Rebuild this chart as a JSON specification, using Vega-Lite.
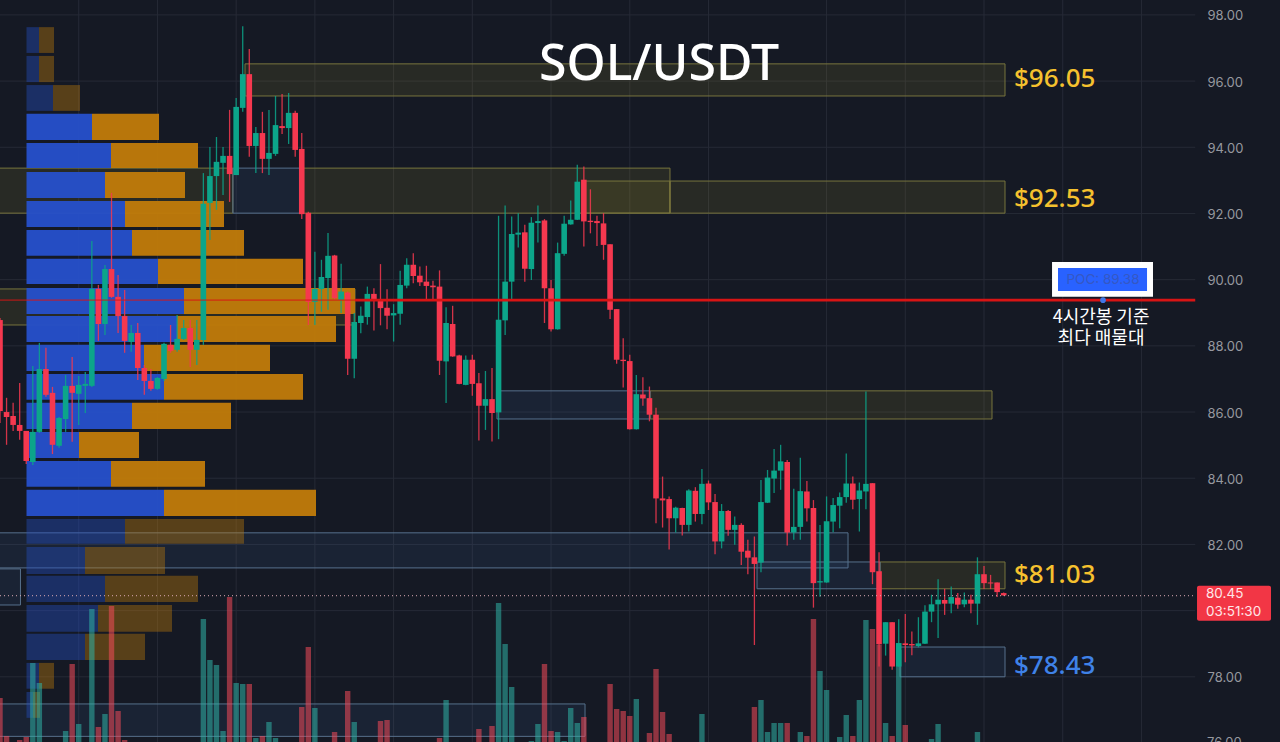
{"width":1280,"height":742,"padding":0,"autosize":{"type":"none"},"background":"#151924","config":{"view":{"stroke":null},"font":"Noto Sans"},
"datasets":{
"candles":[
{"i":0,"o":88.78,"h":88.84,"l":85.67,"c":86.03,"v":44},{"i":1,"o":86.0,"h":86.43,"l":85.01,"c":85.85,"v":6},{"i":2,"o":85.88,"h":86.28,"l":85.43,"c":85.61,"v":0},{"i":3,"o":85.61,"h":86.88,"l":85.16,"c":85.43,"v":2},{"i":4,"o":85.43,"h":85.43,"l":84.43,"c":84.52,"v":5},{"i":5,"o":84.49,"h":87.39,"l":84.4,"c":85.4,"v":79},{"i":6,"o":85.4,"h":88.09,"l":85.37,"c":87.3,"v":59},{"i":7,"o":87.3,"h":87.94,"l":86.46,"c":86.52,"v":0},{"i":8,"o":86.58,"h":86.76,"l":84.73,"c":85.01,"v":0},{"i":9,"o":84.98,"h":85.85,"l":84.92,"c":85.82,"v":0},
{"i":10,"o":85.79,"h":87.12,"l":85.4,"c":86.79,"v":11},{"i":11,"o":86.79,"h":87.66,"l":85.1,"c":86.58,"v":78},{"i":12,"o":86.55,"h":87.09,"l":85.61,"c":86.82,"v":18},{"i":13,"o":86.79,"h":87.21,"l":85.97,"c":86.85,"v":0},{"i":14,"o":86.79,"h":91.17,"l":86.76,"c":89.72,"v":133},{"i":15,"o":89.72,"h":89.84,"l":88.15,"c":88.66,"v":15},{"i":16,"o":88.66,"h":90.44,"l":88.33,"c":90.32,"v":28},{"i":17,"o":90.32,"h":92.62,"l":89.45,"c":89.48,"v":136},{"i":18,"o":89.48,"h":90.14,"l":88.39,"c":88.9,"v":31},{"i":19,"o":88.9,"h":89.69,"l":87.79,"c":88.15,"v":2},
{"i":20,"o":88.12,"h":88.63,"l":87.82,"c":88.39,"v":0},{"i":21,"o":88.39,"h":88.69,"l":86.97,"c":87.33,"v":0},{"i":22,"o":87.33,"h":87.42,"l":86.52,"c":86.94,"v":0},{"i":23,"o":86.94,"h":87.3,"l":86.64,"c":86.7,"v":0},{"i":24,"o":86.7,"h":87.06,"l":86.67,"c":87.03,"v":0},{"i":25,"o":87.0,"h":88.09,"l":86.94,"c":88.06,"v":0},{"i":26,"o":88.03,"h":88.63,"l":87.79,"c":87.85,"v":0},{"i":27,"o":87.88,"h":88.93,"l":87.82,"c":88.21,"v":0},{"i":28,"o":88.21,"h":88.78,"l":88.18,"c":88.54,"v":0},{"i":29,"o":88.54,"h":88.78,"l":87.36,"c":87.88,"v":0},
{"i":30,"o":87.88,"h":88.78,"l":87.42,"c":88.18,"v":0},{"i":31,"o":88.18,"h":93.22,"l":88.03,"c":92.29,"v":123},{"i":32,"o":92.32,"h":94.01,"l":91.2,"c":93.13,"v":82},{"i":33,"o":93.13,"h":94.31,"l":92.11,"c":93.56,"v":77},{"i":34,"o":93.53,"h":94.01,"l":92.56,"c":93.74,"v":11},{"i":35,"o":93.74,"h":95.13,"l":92.35,"c":93.19,"v":145},{"i":36,"o":93.16,"h":95.49,"l":93.16,"c":95.22,"v":59},{"i":37,"o":95.19,"h":97.66,"l":95.07,"c":96.21,"v":58},{"i":38,"o":96.21,"h":96.97,"l":93.71,"c":94.04,"v":58},{"i":39,"o":94.04,"h":94.61,"l":93.22,"c":94.43,"v":4},
{"i":40,"o":94.43,"h":95.07,"l":93.22,"c":93.65,"v":6},{"i":41,"o":93.65,"h":95.13,"l":93.16,"c":93.83,"v":20},{"i":42,"o":93.8,"h":95.55,"l":93.74,"c":94.67,"v":4},{"i":43,"o":94.64,"h":95.61,"l":94.4,"c":94.58,"v":0},{"i":44,"o":94.58,"h":95.64,"l":94.1,"c":95.04,"v":0},{"i":45,"o":95.04,"h":95.1,"l":93.71,"c":93.92,"v":0},{"i":46,"o":93.95,"h":94.43,"l":91.83,"c":91.98,"v":35},{"i":47,"o":92.02,"h":92.05,"l":88.63,"c":89.33,"v":95},{"i":48,"o":89.33,"h":90.84,"l":88.63,"c":89.72,"v":34},{"i":49,"o":89.72,"h":90.6,"l":89.03,"c":90.08,"v":0},
{"i":50,"o":90.05,"h":91.41,"l":89.09,"c":90.72,"v":0},{"i":51,"o":90.73,"h":90.75,"l":89.39,"c":89.44,"v":10},{"i":52,"o":89.39,"h":90.48,"l":88.99,"c":89.64,"v":0},{"i":53,"o":89.61,"h":89.64,"l":87.12,"c":87.61,"v":51},{"i":54,"o":87.61,"h":88.99,"l":87.02,"c":88.72,"v":20},{"i":55,"o":88.69,"h":89.19,"l":88.38,"c":88.91,"v":0},{"i":56,"o":88.87,"h":89.79,"l":88.64,"c":89.57,"v":0},{"i":57,"o":89.57,"h":89.74,"l":88.46,"c":89.36,"v":0},{"i":58,"o":89.39,"h":90.47,"l":88.62,"c":89.14,"v":21},{"i":59,"o":89.15,"h":89.71,"l":88.5,"c":88.91,"v":22},
{"i":60,"o":88.92,"h":89.26,"l":88.13,"c":88.99,"v":0},{"i":61,"o":88.97,"h":90.27,"l":88.64,"c":89.84,"v":0},{"i":62,"o":89.82,"h":90.65,"l":89.74,"c":90.45,"v":0},{"i":63,"o":90.45,"h":90.8,"l":89.89,"c":90.11,"v":0},{"i":64,"o":90.12,"h":90.4,"l":89.81,"c":89.92,"v":0},{"i":65,"o":89.94,"h":90.42,"l":89.41,"c":89.81,"v":0},{"i":66,"o":89.82,"h":89.97,"l":89.41,"c":89.77,"v":0},{"i":67,"o":89.79,"h":90.28,"l":87.12,"c":87.55,"v":4},{"i":68,"o":87.53,"h":89.17,"l":86.27,"c":88.69,"v":42},{"i":69,"o":88.66,"h":89.21,"l":87.67,"c":87.68,"v":0},
{"i":70,"o":87.71,"h":87.73,"l":86.84,"c":86.85,"v":0},{"i":71,"o":86.82,"h":87.71,"l":86.81,"c":87.58,"v":0},{"i":72,"o":87.58,"h":87.73,"l":86.49,"c":86.85,"v":0},{"i":73,"o":86.87,"h":87.18,"l":85.14,"c":86.19,"v":13},{"i":74,"o":86.19,"h":87.24,"l":85.46,"c":86.39,"v":0},{"i":75,"o":86.39,"h":87.33,"l":85.11,"c":85.97,"v":16},{"i":76,"o":85.99,"h":91.93,"l":85.18,"c":88.79,"v":139},{"i":77,"o":88.77,"h":92.24,"l":88.33,"c":89.94,"v":98},{"i":78,"o":89.94,"h":91.91,"l":89.41,"c":91.38,"v":55},{"i":79,"o":91.36,"h":92.01,"l":90.97,"c":91.42,"v":0},
{"i":80,"o":91.43,"h":91.66,"l":89.94,"c":90.33,"v":0},{"i":81,"o":90.32,"h":91.89,"l":89.99,"c":91.72,"v":1},{"i":82,"o":91.71,"h":92.24,"l":91.12,"c":91.77,"v":18},{"i":83,"o":91.79,"h":91.83,"l":88.69,"c":89.74,"v":78},{"i":84,"o":89.74,"h":89.99,"l":88.43,"c":88.5,"v":11},{"i":85,"o":88.5,"h":91.12,"l":88.49,"c":90.8,"v":10},{"i":86,"o":90.78,"h":91.93,"l":90.72,"c":91.69,"v":1},{"i":87,"o":91.67,"h":92.39,"l":91.66,"c":91.81,"v":34},{"i":88,"o":91.81,"h":93.47,"l":91.8,"c":92.96,"v":19},{"i":89,"o":93.02,"h":93.42,"l":91.0,"c":91.76,"v":25},
{"i":90,"o":91.78,"h":92.73,"l":91.4,"c":91.74,"v":0},{"i":91,"o":91.77,"h":91.93,"l":91.02,"c":91.71,"v":0},{"i":92,"o":91.7,"h":92.01,"l":90.6,"c":91.05,"v":0},{"i":93,"o":91.07,"h":91.07,"l":88.81,"c":89.09,"v":58},{"i":94,"o":89.11,"h":89.11,"l":87.46,"c":87.58,"v":33},{"i":95,"o":87.58,"h":88.23,"l":86.74,"c":87.54,"v":31},{"i":96,"o":87.54,"h":87.73,"l":85.47,"c":85.48,"v":26},{"i":97,"o":85.48,"h":87.12,"l":85.47,"c":86.54,"v":43},{"i":98,"o":86.53,"h":87.05,"l":86.19,"c":86.41,"v":0},{"i":99,"o":86.42,"h":86.77,"l":85.72,"c":85.92,"v":9},
{"i":100,"o":85.92,"h":86.13,"l":82.64,"c":83.39,"v":73},{"i":101,"o":83.39,"h":84.05,"l":82.51,"c":83.33,"v":30},{"i":102,"o":83.37,"h":83.45,"l":81.85,"c":82.79,"v":8},{"i":103,"o":82.79,"h":83.14,"l":82.36,"c":83.11,"v":0},{"i":104,"o":83.1,"h":83.11,"l":82.27,"c":82.59,"v":0},{"i":105,"o":82.59,"h":83.67,"l":82.39,"c":83.63,"v":0},{"i":106,"o":83.62,"h":83.73,"l":82.69,"c":82.92,"v":0},{"i":107,"o":82.92,"h":84.28,"l":82.61,"c":83.83,"v":28},{"i":108,"o":83.84,"h":83.93,"l":83.04,"c":83.27,"v":0},{"i":109,"o":83.28,"h":83.52,"l":81.7,"c":82.09,"v":0},
{"i":110,"o":82.09,"h":83.22,"l":81.88,"c":83.01,"v":0},{"i":111,"o":83.01,"h":83.04,"l":82.26,"c":82.44,"v":0},{"i":112,"o":82.44,"h":82.84,"l":81.99,"c":82.59,"v":0},{"i":113,"o":82.59,"h":82.64,"l":81.38,"c":81.78,"v":0},{"i":114,"o":81.81,"h":82.14,"l":81.1,"c":81.6,"v":0},{"i":115,"o":81.61,"h":82.24,"l":78.96,"c":81.41,"v":35},{"i":116,"o":81.45,"h":83.95,"l":81.16,"c":83.28,"v":42},{"i":117,"o":83.26,"h":84.25,"l":83.25,"c":84.02,"v":10},{"i":118,"o":83.99,"h":84.88,"l":83.55,"c":84.23,"v":19},{"i":119,"o":84.23,"h":85.01,"l":83.65,"c":84.51,"v":19},
{"i":120,"o":84.49,"h":84.55,"l":81.97,"c":82.36,"v":19},{"i":121,"o":82.36,"h":83.68,"l":82.14,"c":82.53,"v":0},{"i":122,"o":82.53,"h":84.62,"l":82.14,"c":83.61,"v":10},{"i":123,"o":83.6,"h":83.92,"l":82.69,"c":83.09,"v":6},{"i":124,"o":83.1,"h":83.34,"l":80.09,"c":80.83,"v":123},{"i":125,"o":80.85,"h":82.59,"l":80.42,"c":80.89,"v":71},{"i":126,"o":80.85,"h":83.45,"l":80.84,"c":82.7,"v":52},{"i":127,"o":82.69,"h":83.4,"l":82.37,"c":83.19,"v":0},{"i":128,"o":83.17,"h":83.57,"l":82.49,"c":83.43,"v":5},{"i":129,"o":83.43,"h":84.75,"l":83.26,"c":83.84,"v":27},
{"i":130,"o":83.84,"h":84.05,"l":83.06,"c":83.35,"v":6},{"i":131,"o":83.37,"h":83.87,"l":82.39,"c":83.63,"v":42},{"i":132,"o":83.6,"h":86.62,"l":83.06,"c":83.83,"v":122},{"i":133,"o":83.85,"h":83.85,"l":80.8,"c":81.16,"v":113},{"i":134,"o":81.19,"h":81.76,"l":78.31,"c":78.98,"v":97},{"i":135,"o":79.0,"h":79.65,"l":78.64,"c":79.65,"v":19},{"i":136,"o":79.65,"h":79.65,"l":78.21,"c":78.31,"v":6},{"i":137,"o":78.31,"h":79.74,"l":78.3,"c":79.02,"v":92},{"i":138,"o":79.01,"h":79.9,"l":78.44,"c":78.96,"v":17},{"i":139,"o":78.99,"h":79.37,"l":78.65,"c":78.95,"v":0},
{"i":140,"o":78.93,"h":79.8,"l":78.89,"c":79.01,"v":0},{"i":141,"o":79.0,"h":80.16,"l":78.99,"c":79.97,"v":0},{"i":142,"o":79.97,"h":80.48,"l":79.65,"c":80.19,"v":3},{"i":143,"o":80.19,"h":80.95,"l":79.17,"c":80.33,"v":18},{"i":144,"o":80.32,"h":80.66,"l":79.87,"c":80.21,"v":0},{"i":145,"o":80.21,"h":80.73,"l":79.92,"c":80.41,"v":0},{"i":146,"o":80.39,"h":80.53,"l":80.06,"c":80.18,"v":0},{"i":147,"o":80.19,"h":80.55,"l":80.1,"c":80.33,"v":0},{"i":148,"o":80.33,"h":80.48,"l":79.92,"c":80.21,"v":0},{"i":149,"o":80.21,"h":81.61,"l":79.57,"c":81.1,"v":10},
{"i":150,"o":81.1,"h":81.35,"l":80.65,"c":80.83,"v":0},{"i":151,"o":80.85,"h":81.08,"l":80.65,"c":80.82,"v":0},{"i":152,"o":80.85,"h":80.85,"l":80.41,"c":80.56,"v":0},{"i":153,"o":80.53,"h":80.55,"l":80.45,"c":80.46,"v":0}
],
"profile":[
{"start":0,"p1":97.63,"p2":96.85,"buy":12.5,"total":27.5,"area":"out"},{"start":0,"p1":96.76,"p2":95.97,"buy":12.5,"total":27.5,"area":"out"},{"start":0,"p1":95.88,"p2":95.1,"buy":26.5,"total":53.5,"area":"out"},{"start":0,"p1":95.01,"p2":94.22,"buy":65.5,"total":132.5,"area":"in"},{"start":0,"p1":94.13,"p2":93.37,"buy":84.5,"total":171.5,"area":"in"},{"start":0,"p1":93.25,"p2":92.47,"buy":78.5,"total":158.5,"area":"in"},{"start":0,"p1":92.38,"p2":91.59,"buy":98.5,"total":197.5,"area":"in"},{"start":0,"p1":91.5,"p2":90.72,"buy":105.5,"total":217.5,"area":"in"},{"start":0,"p1":90.63,"p2":89.87,"buy":131.5,"total":276.5,"area":"in"},{"start":0,"p1":89.75,"p2":88.96,"buy":157.5,"total":328.5,"area":"in"},{"start":0,"p1":88.9,"p2":88.12,"buy":150.5,"total":309.5,"area":"in"},{"start":0,"p1":88.03,"p2":87.24,"buy":117.5,"total":243.5,"area":"in"},{"start":0,"p1":87.15,"p2":86.37,"buy":137.5,"total":276.5,"area":"in"},{"start":0,"p1":86.28,"p2":85.49,"buy":105.5,"total":204.5,"area":"in"},{"start":0,"p1":85.4,"p2":84.61,"buy":52.5,"total":112.5,"area":"in"},{"start":0,"p1":84.52,"p2":83.74,"buy":84.5,"total":178.5,"area":"in"},{"start":0,"p1":83.65,"p2":82.86,"buy":137.5,"total":289.5,"area":"in"},{"start":0,"p1":82.77,"p2":82.02,"buy":98.5,"total":217.5,"area":"out"},{"start":0,"p1":81.92,"p2":81.11,"buy":58.5,"total":138.5,"area":"out"},{"start":0,"p1":81.05,"p2":80.26,"buy":78.5,"total":171.5,"area":"out"},{"start":0,"p1":80.17,"p2":79.36,"buy":71.5,"total":145.5,"area":"out"},{"start":0,"p1":79.3,"p2":78.51,"buy":58.5,"total":118.5,"area":"out"},{"start":0,"p1":78.42,"p2":77.64,"buy":12.5,"total":27.5,"area":"out"},{"start":0,"p1":77.54,"p2":76.76,"buy":6.5,"total":13.5,"area":"out"}
],
"zones":[
{"x1":37.35,"x2":153.2,"p1":96.52,"p2":95.55,"kind":"supply"},{"x1":-2,"x2":35.5,"p1":93.37,"p2":92.01,"kind":"supply"},{"x1":46.19,"x2":102.13,"p1":93.37,"p2":92.01,"kind":"supply"},{"x1":102.13,"x2":153.2,"p1":92.98,"p2":92.01,"kind":"supply"},{"x1":89.18,"x2":102.13,"p1":92.98,"p2":92.01,"kind":"supply"},{"x1":-2,"x2":54.12,"p1":89.72,"p2":88.63,"kind":"supply"},{"x1":99.09,"x2":151.22,"p1":86.64,"p2":85.79,"kind":"supply"},{"x1":134.15,"x2":153.2,"p1":81.47,"p2":80.66,"kind":"supply"},
{"x1":35.5,"x2":46.19,"p1":93.37,"p2":92.01,"kind":"demand"},{"x1":75.76,"x2":99.09,"p1":86.64,"p2":85.79,"kind":"demand"},{"x1":-2,"x2":129.27,"p1":82.35,"p2":81.29,"kind":"demand"},{"x1":115.4,"x2":134.15,"p1":81.47,"p2":80.66,"kind":"demand"},{"x1":137.2,"x2":153.2,"p1":78.9,"p2":78.0,"kind":"demand"},{"x1":-2,"x2":3.12,"p1":81.26,"p2":80.17,"kind":"demand"},{"x1":-2,"x2":89.18,"p1":77.18,"p2":76.2,"kind":"demand"}
],
"xgrid":[{"i":12},{"i":24},{"i":36},{"i":48},{"i":60},{"i":72},{"i":84},{"i":96},{"i":108},{"i":126},{"i":138},{"i":150},{"i":162},{"i":174}],
"ygrid":[{"p":98,"a":0,"b":182.2},{"p":96,"a":0,"b":182.2},{"p":94,"a":0,"b":182.2},{"p":92,"a":0,"b":182.2},{"p":90,"a":0,"b":182.2},{"p":88,"a":0,"b":182.2},{"p":86,"a":0,"b":182.2},{"p":84,"a":0,"b":182.2},{"p":82,"a":0,"b":182.2},{"p":80,"a":0,"b":182.2},{"p":78,"a":0,"b":182.2}],
"levels":[{"label":"$96.05","i":154.57,"p":96.06,"kind":"gold"},{"label":"$92.53","i":154.57,"p":92.44,"kind":"gold"},{"label":"$81.03","i":154.57,"p":81.08,"kind":"gold"},{"label":"$78.43","i":154.57,"p":78.33,"kind":"blue"}]
},
"resolve":{"scale":{"x":"independent","y":"independent"}},
"layer":[
{"data":{"name":"ygrid"},"mark":{"type":"rule","color":"#262a36","strokeWidth":1},"encoding":{"x":{"field":"a","type":"quantitative","scale":{"domain":[0,195.12],"nice":false,"zero":false},"axis":null},"x2":{"field":"b"},"y":{"field":"p","type":"quantitative","scale":{"domain":[76.03,98.45],"nice":false,"zero":false},"axis":{"orient":"right","offset":-73,"values":[78,80,82,84,86,88,90,92,94,96,98],"format":".2f","title":null,"grid":false,"ticks":false,"domain":false,"labelPadding":0,"labelOffset":1,"labelAlign":"left","labelBaseline":"middle","labelColor":"#96989f","labelFont":"Inter","labelFontSize":13,"labelOverlap":false,"labelFlush":false,"labelBound":false}}}},
{"data":{"name":"xgrid"},"mark":{"type":"rule","color":"#262a36","strokeWidth":1},"encoding":{"x":{"field":"i","type":"quantitative","scale":{"domain":[0,195.12],"nice":false,"zero":false},"axis":null}}},
{"data":{"name":"zones"},"mark":{"type":"rect","strokeWidth":1,"fillOpacity":0.11,"clip":true},"encoding":{"x":{"field":"x1","type":"quantitative","scale":{"domain":[0,195.12],"nice":false,"zero":false},"axis":null},"x2":{"field":"x2"},"y":{"field":"p1","type":"quantitative","scale":{"domain":[76.03,98.45],"nice":false,"zero":false},"axis":null},"y2":{"field":"p2"},"fill":{"condition":{"test":"datum.kind==='supply'","value":"#c8b432"},"value":"#4a7ab8"},"stroke":{"condition":{"test":"datum.kind==='supply'","value":"#77743d"},"value":"#56708c"}}},
{"data":{"name":"profile"},"mark":{"type":"rect"},"encoding":{"x":{"field":"start","type":"quantitative","scale":{"domain":[-26.5,1253.5],"nice":false,"zero":false},"axis":null},"x2":{"field":"buy"},"y":{"field":"p1","type":"quantitative","scale":{"domain":[76.03,98.45],"nice":false,"zero":false},"axis":null},"y2":{"field":"p2"},"color":{"value":"#2650c8"},"opacity":{"condition":{"test":"datum.area==='in'","value":0.97},"value":0.4}}},
{"data":{"name":"profile"},"mark":{"type":"rect"},"encoding":{"x":{"field":"buy","type":"quantitative","scale":{"domain":[-26.5,1253.5],"nice":false,"zero":false},"axis":null},"x2":{"field":"total"},"y":{"field":"p1","type":"quantitative","scale":{"domain":[76.03,98.45],"nice":false,"zero":false},"axis":null},"y2":{"field":"p2"},"color":{"value":"#be7a0a"},"opacity":{"condition":{"test":"datum.area==='in'","value":0.97},"value":0.4}}},
{"data":{"name":"candles"},"transform":[{"filter":"datum.v>0"}],"mark":{"type":"rule","strokeWidth":5.4,"opacity":0.55},"encoding":{"x":{"field":"i","type":"quantitative","scale":{"domain":[0,195.12],"nice":false,"zero":false},"axis":null},"y":{"field":"v","type":"quantitative","scale":{"domain":[0,742],"nice":false,"zero":true},"axis":null},"y2":{"datum":0},"color":{"condition":{"test":"datum.c>=datum.o","value":"#30b3a6"},"value":"#f54a5a"}}},
{"data":{"name":"candles"},"mark":{"type":"rule","strokeWidth":1.3,"opacity":0.85},"encoding":{"x":{"field":"i","type":"quantitative","scale":{"domain":[0,195.12],"nice":false,"zero":false},"axis":null},"y":{"field":"l","type":"quantitative","scale":{"domain":[76.03,98.45],"nice":false,"zero":false},"axis":null},"y2":{"field":"h"},"color":{"condition":{"test":"datum.c>=datum.o","value":"#0ca58a"},"value":"#f5384f"}}},
{"data":{"name":"candles"},"mark":{"type":"rule","strokeWidth":5.6},"encoding":{"x":{"field":"i","type":"quantitative","scale":{"domain":[0,195.12],"nice":false,"zero":false},"axis":null},"y":{"field":"o","type":"quantitative","scale":{"domain":[76.03,98.45],"nice":false,"zero":false},"axis":null},"y2":{"field":"c"},"color":{"condition":{"test":"datum.c>=datum.o","value":"#0ca58a"},"value":"#f5384f"}}},
{"data":{"values":[{"p":80.45,"a":0,"b":182.2}]},"mark":{"type":"rule","color":"#dcaab4","strokeWidth":1,"strokeDash":[1,3]},"encoding":{"x":{"field":"a","type":"quantitative","scale":{"domain":[0,195.12],"nice":false,"zero":false},"axis":null},"x2":{"field":"b"},"y":{"field":"p","type":"quantitative","scale":{"domain":[76.03,98.45],"nice":false,"zero":false},"axis":null}}},
{"data":{"values":[{"p":89.38,"a":0,"b":54.1,"seg":"profile"},{"p":89.38,"a":54.1,"b":182.2,"seg":"open"}]},"mark":{"type":"rule","color":"#d81414"},"encoding":{"x":{"field":"a","type":"quantitative","scale":{"domain":[0,195.12],"nice":false,"zero":false},"axis":null},"x2":{"field":"b"},"y":{"field":"p","type":"quantitative","scale":{"domain":[76.03,98.45],"nice":false,"zero":false},"axis":null},"opacity":{"condition":{"test":"datum.seg==='profile'","value":0.55},"value":1},"strokeWidth":{"condition":{"test":"datum.seg==='profile'","value":1.8},"value":2.7}}},
{"data":{"values":[{"a":160.37,"b":175.76,"p1":90.53,"p2":89.48,"part":"frame"},{"a":161.28,"b":174.85,"p1":90.35,"p2":89.66,"part":"fill"}]},"mark":{"type":"rect"},"encoding":{"x":{"field":"a","type":"quantitative","scale":{"domain":[0,195.12],"nice":false,"zero":false},"axis":null},"x2":{"field":"b"},"y":{"field":"p1","type":"quantitative","scale":{"domain":[76.03,98.45],"nice":false,"zero":false},"axis":null},"y2":{"field":"p2"},"color":{"condition":{"test":"datum.part==='frame'","value":"#ffffff"},"value":"#2962ff"}}},
{"data":{"values":[{"i":168.14,"p":89.38}]},"mark":{"type":"point","filled":true,"size":32,"color":"#3f78e8","opacity":1},"encoding":{"x":{"field":"i","type":"quantitative","scale":{"domain":[0,195.12],"nice":false,"zero":false},"axis":null},"y":{"field":"p","type":"quantitative","scale":{"domain":[76.03,98.45],"nice":false,"zero":false},"axis":null}}},
{"data":{"values":[{"a":182.47,"b":193.75,"p1":80.75,"p2":79.69}]},"mark":{"type":"rect","color":"#f23645","cornerRadius":2},"encoding":{"x":{"field":"a","type":"quantitative","scale":{"domain":[0,195.12],"nice":false,"zero":false},"axis":null},"x2":{"field":"b"},"y":{"field":"p1","type":"quantitative","scale":{"domain":[76.03,98.45],"nice":false,"zero":false},"axis":null},"y2":{"field":"p2"}}},
{"data":{"values":[{"label":"76.00","i":184,"p":76}]},"mark":{"type":"text","align":"left","baseline":"middle","font":"Inter","fontSize":13,"color":"#96989f"},"encoding":{"x":{"field":"i","type":"quantitative","scale":{"domain":[0,195.12],"nice":false,"zero":false},"axis":null},"y":{"field":"p","type":"quantitative","scale":{"domain":[76.03,98.45],"nice":false,"zero":false},"axis":null},"text":{"field":"label"}}},
{"data":{"values":[{"label":"80.45","i":183.84,"p":80.49},{"label":"03:51:30","i":183.84,"p":79.96}]},"mark":{"type":"text","align":"left","baseline":"middle","font":"Inter","fontSize":13.5,"color":"#ffe6e8"},"encoding":{"x":{"field":"i","type":"quantitative","scale":{"domain":[0,195.12],"nice":false,"zero":false},"axis":null},"y":{"field":"p","type":"quantitative","scale":{"domain":[76.03,98.45],"nice":false,"zero":false},"axis":null},"text":{"field":"label"}}},
{"data":{"values":[{"label":"POC: 89.38","i":168.14,"p":89.99}]},"mark":{"type":"text","align":"center","baseline":"middle","font":"Inter","fontSize":13.5,"color":"#3558c4"},"encoding":{"x":{"field":"i","type":"quantitative","scale":{"domain":[0,195.12],"nice":false,"zero":false},"axis":null},"y":{"field":"p","type":"quantitative","scale":{"domain":[76.03,98.45],"nice":false,"zero":false},"axis":null},"text":{"field":"label"}}},
{"data":{"values":[{"label":"4시간봉 기준","i":167.84,"p":88.83},{"label":"최다 매물대","i":167.84,"p":88.2}]},"mark":{"type":"text","align":"center","baseline":"middle","font":"Noto Sans CJK KR","fontSize":18,"color":"#ffffff"},"encoding":{"x":{"field":"i","type":"quantitative","scale":{"domain":[0,195.12],"nice":false,"zero":false},"axis":null},"y":{"field":"p","type":"quantitative","scale":{"domain":[76.03,98.45],"nice":false,"zero":false},"axis":null},"text":{"field":"label"}}},
{"data":{"name":"levels"},"mark":{"type":"text","align":"left","baseline":"middle","font":"Noto Sans","fontSize":26,"fontWeight":500},"encoding":{"x":{"field":"i","type":"quantitative","scale":{"domain":[0,195.12],"nice":false,"zero":false},"axis":null},"y":{"field":"p","type":"quantitative","scale":{"domain":[76.03,98.45],"nice":false,"zero":false},"axis":null},"text":{"field":"label"},"color":{"condition":{"test":"datum.kind==='gold'","value":"#f5c12e"},"value":"#3f82e8"}}},
{"data":{"values":[{"label":"SOL/USDT","i":100.46,"p":96.49}]},"mark":{"type":"text","align":"center","baseline":"middle","font":"Noto Sans","fontSize":50,"fontWeight":500,"color":"#ffffff"},"encoding":{"x":{"field":"i","type":"quantitative","scale":{"domain":[0,195.12],"nice":false,"zero":false},"axis":null},"y":{"field":"p","type":"quantitative","scale":{"domain":[76.03,98.45],"nice":false,"zero":false},"axis":null},"text":{"field":"label"}}}
]}
